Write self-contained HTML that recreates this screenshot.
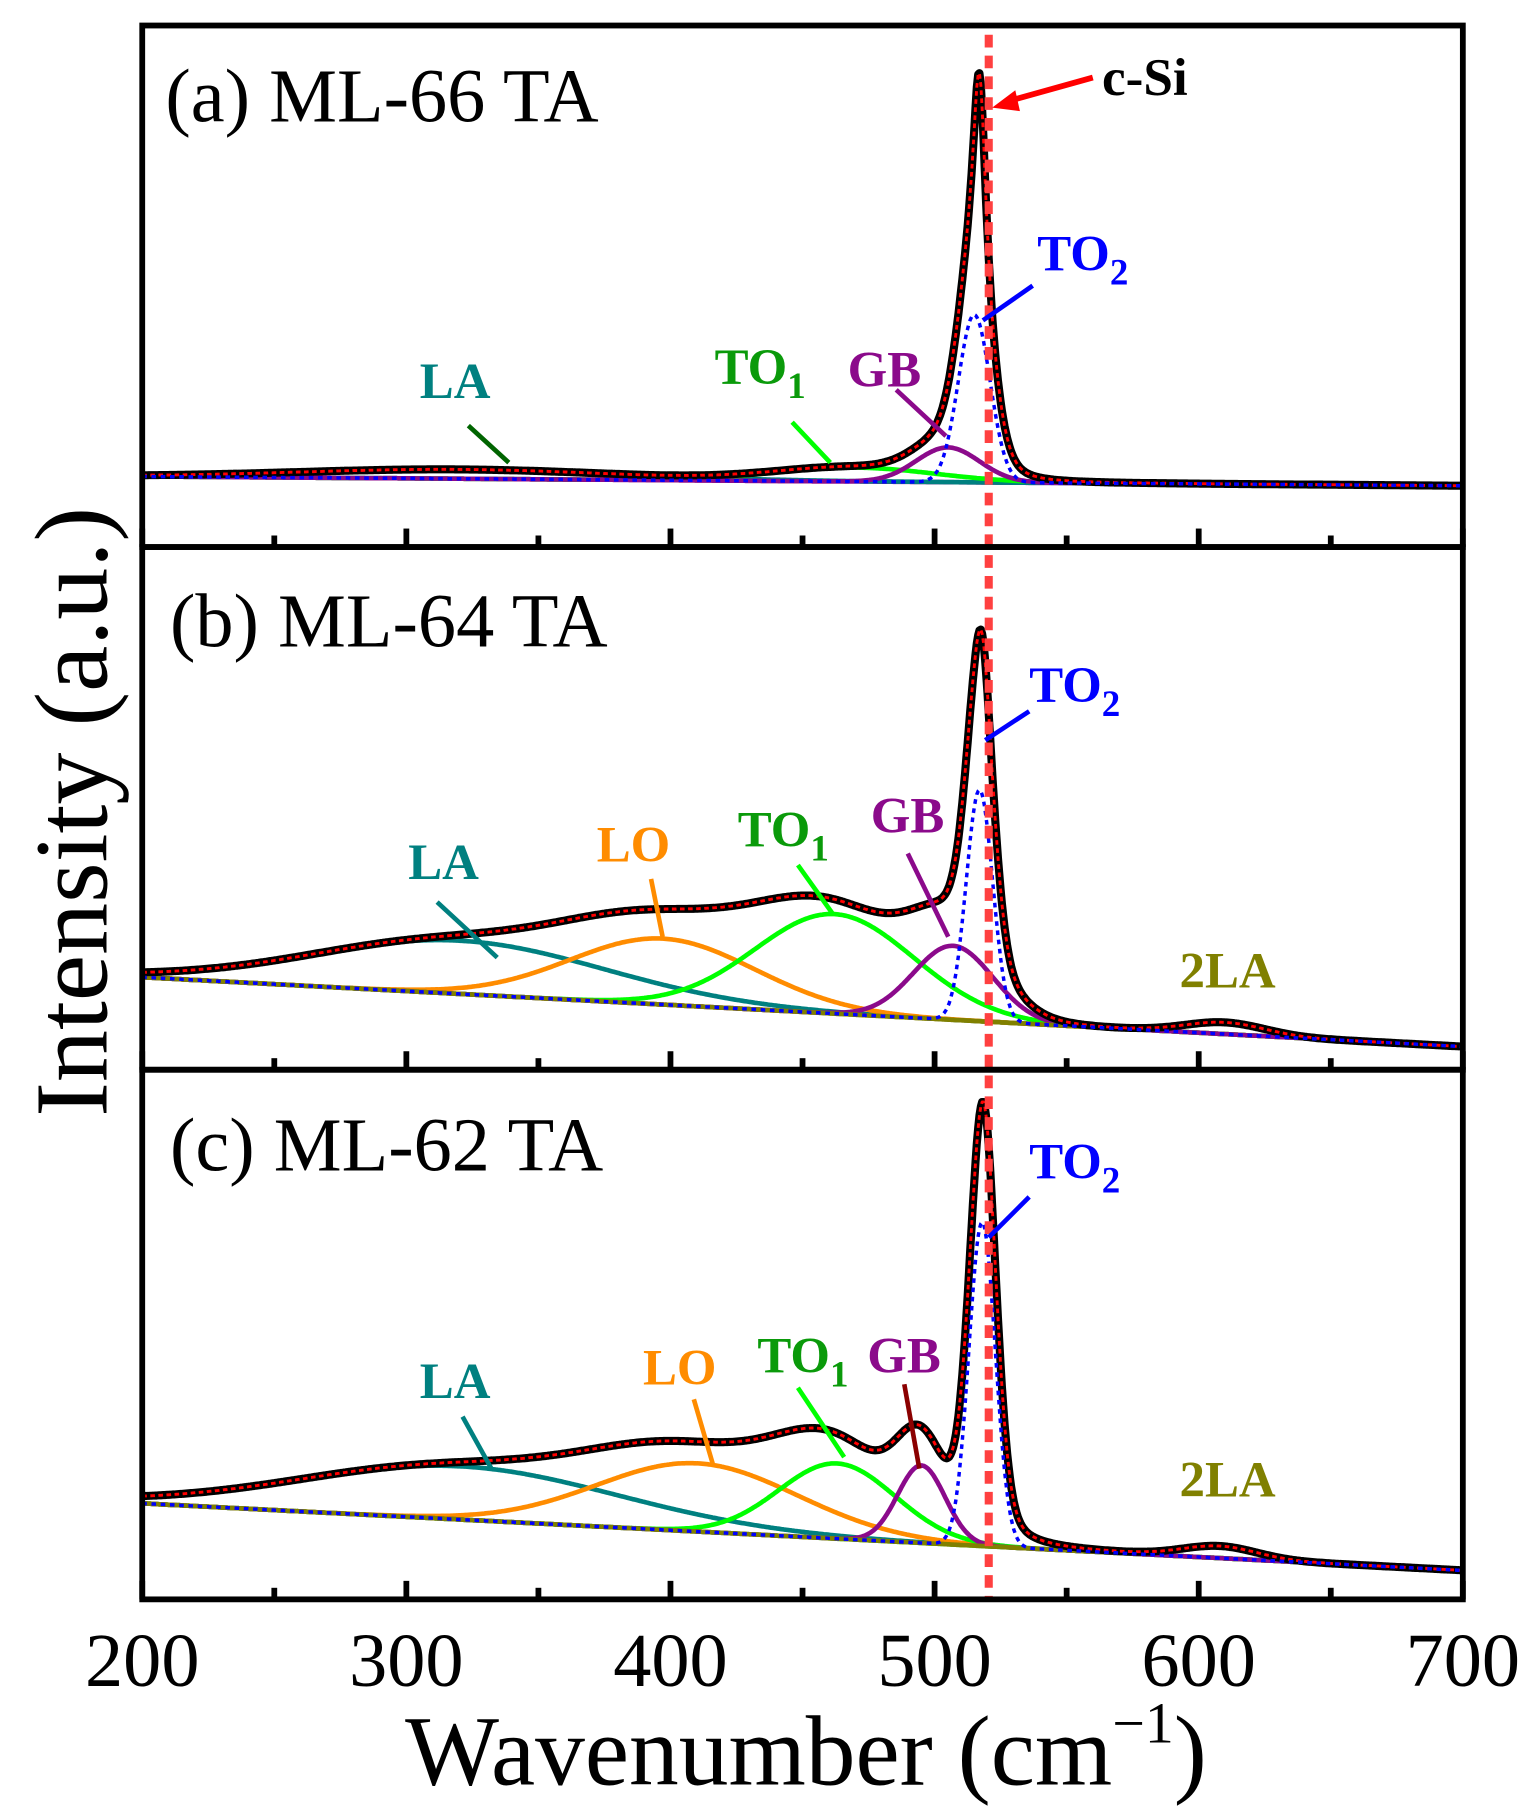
<!DOCTYPE html>
<html><head><meta charset="utf-8"><style>
html,body{margin:0;padding:0;background:#fff;}
svg{display:block;}
text{font-family:"Liberation Serif",serif;}
</style></head><body>
<svg id="chart" width="1538" height="1818" viewBox="0 0 1330 1572" xmlns="http://www.w3.org/2000/svg">
<g id="curves"></g>
<g id="frames"></g>
<g id="labels">
 <text x="143" y="105" font-size="66">(a) ML-66 TA</text>
 <text x="147" y="559" font-size="66">(b) ML-64 TA</text>
 <text x="147" y="1012" font-size="66">(c) ML-62 TA</text>
 <text x="953" y="82" font-size="46" font-weight="bold">c-Si</text>
 <line x1="945" y1="67" x2="870" y2="88" stroke="#f00" stroke-width="5"/>
 <polygon points="858,93 878,78 882,96" fill="#f00"/>
 <g font-weight="bold" font-size="44">
 <text x="897" y="234" fill="#00f">TO<tspan font-size="32" dy="12">2</tspan></text>
 <line x1="893" y1="247" x2="850" y2="277" stroke="#00f" stroke-width="4"/>
 <text x="733" y="334" fill="#8b0a8b">GB</text>
 <line x1="775" y1="337" x2="818" y2="377" stroke="#8b0a8b" stroke-width="4"/>
 <text x="618" y="332" fill="#0a9a0a">TO<tspan font-size="32" dy="12">1</tspan></text>
 <line x1="685" y1="365" x2="718" y2="400" stroke="#0f0" stroke-width="4"/>
 <text x="363" y="344" fill="#008080">LA</text>
 <line x1="405" y1="368" x2="440" y2="400" stroke="#006400" stroke-width="4"/>

 <text x="890" y="607" fill="#00f">TO<tspan font-size="32" dy="12">2</tspan></text>
 <line x1="890" y1="615" x2="852" y2="640" stroke="#00f" stroke-width="4"/>
 <text x="753" y="720" fill="#8b0a8b">GB</text>
 <line x1="785" y1="738" x2="820" y2="810" stroke="#8b0a8b" stroke-width="4"/>
 <text x="638" y="732" fill="#0a9a0a">TO<tspan font-size="32" dy="12">1</tspan></text>
 <line x1="690" y1="748" x2="720" y2="790" stroke="#0f0" stroke-width="4"/>
 <text x="516" y="745" fill="#ff8c00">LO</text>
 <line x1="563" y1="760" x2="573" y2="810" stroke="#ff8c00" stroke-width="4"/>
 <text x="353" y="760" fill="#008080">LA</text>
 <line x1="378" y1="780" x2="430" y2="828" stroke="#008080" stroke-width="4"/>
 <text x="1020" y="854" fill="#808000">2LA</text>

 <text x="890" y="1019" fill="#00f">TO<tspan font-size="32" dy="12">2</tspan></text>
 <line x1="890" y1="1035" x2="855" y2="1070" stroke="#00f" stroke-width="4"/>
 <text x="750" y="1187" fill="#8b0a8b">GB</text>
 <line x1="782" y1="1197" x2="795" y2="1270" stroke="#8b0000" stroke-width="4"/>
 <text x="655" y="1187" fill="#0a9a0a">TO<tspan font-size="32" dy="12">1</tspan></text>
 <line x1="690" y1="1200" x2="730" y2="1260" stroke="#0f0" stroke-width="4"/>
 <text x="556" y="1197" fill="#ff8c00">LO</text>
 <line x1="600" y1="1210" x2="617" y2="1268" stroke="#ff8c00" stroke-width="4"/>
 <text x="363" y="1209" fill="#008080">LA</text>
 <line x1="400" y1="1225" x2="425" y2="1270" stroke="#008080" stroke-width="4"/>
 <text x="1020" y="1294" fill="#808000">2LA</text>
 </g>
 <text x="697" y="1543" font-size="86" text-anchor="middle">Wavenumber (cm<tspan font-size="50" dy="-36">−1</tspan><tspan dy="36">)</tspan></text>
 <text transform="translate(92,702) rotate(-90)" font-size="90" text-anchor="middle">Intensity (a.u.)</text>
</g>
<g id="xticks"></g>
</svg>
<script>
const NS="http://www.w3.org/2000/svg";
const xTicks=[200,300,400,500,600,700];
const xMinor=[250,350,450,550,650];
const panelTops=[22,473,925];
const panelBots=[473,925,1383];
const baseStart=[412,845,1300];
const baseEnd=[420,905,1358];
const laA=[320,8,60], to1A=[470,12,30], gbA=[505,30,12], to2A=[515,145,6], csiA=[517,195,3];
const laB=[320,46,55], loB=[397,57,35], to1B=[462,86,30], gbB=[507,64,15], to2B=[517,200,5], csiB=[518,75,4], la2B=[610,10,15];
const laC=[320,46,60], loC=[410,59,38], to1C=[463,65,22], gbC=[495,67,9], to2C=[518,280,5], csiC=[519,100,6], la2C=[608,10,14];
const panels=[
 {base:0,comps:[["la",laA,"#008080"],["to1",to1A,"#00ff00"],["gb",gbA,"#8b0a8b"],["to2",to2A,"#0000ff"]],csi:csiA},
 {base:1,comps:[["la",laB,"#008080"],["lo",loB,"#ff8c00"],["to1",to1B,"#00ff00"],["gb",gbB,"#8b0a8b"],["to2",to2B,"#0000ff"],["2la",la2B,"#808000"]],csi:csiB},
 {base:2,comps:[["la",laC,"#008080"],["lo",loC,"#ff8c00"],["to1",to1C,"#00ff00"],["gb",gbC,"#8b0a8b"],["to2",to2C,"#0000ff"],["2la",la2C,"#808000"]],csi:csiC}
];
const X0=123,X1=1265;
function xs(v){return X0+(v-200)/500*(X1-X0);}
function gauss(p,x){return p[1]*Math.exp(-Math.pow(x-p[0],2)/(2*p[2]*p[2]));}
function lor(p,x){return p[1]*p[2]*p[2]/(Math.pow(x-p[0],2)+p[2]*p[2]);}
const g=document.getElementById('curves');
function addPath(d,stroke,w,dash,name){
 const p=document.createElementNS(NS,'path');
 p.setAttribute('d',d);p.setAttribute('fill','none');p.setAttribute('stroke',stroke);
 p.setAttribute('stroke-width',w);if(dash)p.setAttribute('stroke-dasharray',dash);
 p.setAttribute('stroke-linejoin','round');
 
 
 g.appendChild(p);
}
panels.forEach((P,i)=>{
 const b0=baseStart[P.base],b1=baseEnd[P.base];
 const base=x=>b0+(x-200)/500*(b1-b0);
 const pts=[];for(let x=200;x<=700;x+=0.5)pts.push(x);
 const tag=['a','b','c'][i];
 addPath(pts.map((x,k)=>(k?'L':'M')+xs(x).toFixed(1)+' '+base(x).toFixed(1)).join(''),i==2?'#00ff00':(i==1?'#808000':'#8b0a8b'),4,null,tag+'-baseline');
 P.comps.forEach(c=>{
  if(c[0]==='to2')return;
  addPath(pts.map((x,k)=>(k?'L':'M')+xs(x).toFixed(1)+' '+(base(x)-gauss(c[1],x)).toFixed(1)).join(''),c[2],4,null,tag+'-'+c[0]+'-curve');
 });
 const tot=x=>{let s=lor(P.csi,x);P.comps.forEach(c=>s+=gauss(c[1],x));return base(x)-s;};
 addPath(pts.map((x,k)=>(k?'L':'M')+xs(x).toFixed(1)+' '+tot(x).toFixed(1)).join(''),'#000',7,null,tag+'-data-line');
 addPath(pts.map((x,k)=>(k?'L':'M')+xs(x).toFixed(1)+' '+tot(x).toFixed(1)).join(''),'#f00',2.5,'4 3',tag+'-fit-line');
 const t2=P.comps.find(c=>c[0]==='to2');
 addPath(pts.map((x,k)=>(k?'L':'M')+xs(x).toFixed(1)+' '+(base(x)-gauss(t2[1],x)).toFixed(1)).join(''),'#00f',3,'4 4',tag+'-to2-curve');
});
const ref=document.createElementNS(NS,'line');
ref.setAttribute('x1',xs(520.5));ref.setAttribute('x2',xs(520.5));ref.setAttribute('y1',30);ref.setAttribute('y2',1383);
ref.setAttribute('stroke','#ff4040');ref.setAttribute('stroke-width',7);ref.setAttribute('stroke-dasharray','11 7');


g.appendChild(ref);
const f=document.getElementById('frames');
panelTops.forEach((t,i)=>{
 const r=document.createElementNS(NS,'rect');
 r.setAttribute('x',X0);r.setAttribute('y',t);r.setAttribute('width',X1-X0);r.setAttribute('height',panelBots[i]-t);
 r.setAttribute('fill','none');r.setAttribute('stroke','#000');r.setAttribute('stroke-width',5);
 
 
 f.appendChild(r);
 xTicks.concat(xMinor).forEach(v=>{
  const major=xTicks.includes(v);
  const l=document.createElementNS(NS,'line');
  l.setAttribute('x1',xs(v));l.setAttribute('x2',xs(v));
  l.setAttribute('y1',panelBots[i]);l.setAttribute('y2',panelBots[i]-(major?16:10));
  l.setAttribute('stroke','#000');l.setAttribute('stroke-width',5);
  
  
  f.appendChild(l);
 });
});
const xt=document.getElementById('xticks');
xTicks.forEach(v=>{
 const t=document.createElementNS(NS,'text');
 t.setAttribute('x',xs(v));t.setAttribute('y',1458);t.setAttribute('font-size',66);t.setAttribute('text-anchor','middle');
 
 
 t.textContent=v;xt.appendChild(t);
});
</script>
</body></html>
